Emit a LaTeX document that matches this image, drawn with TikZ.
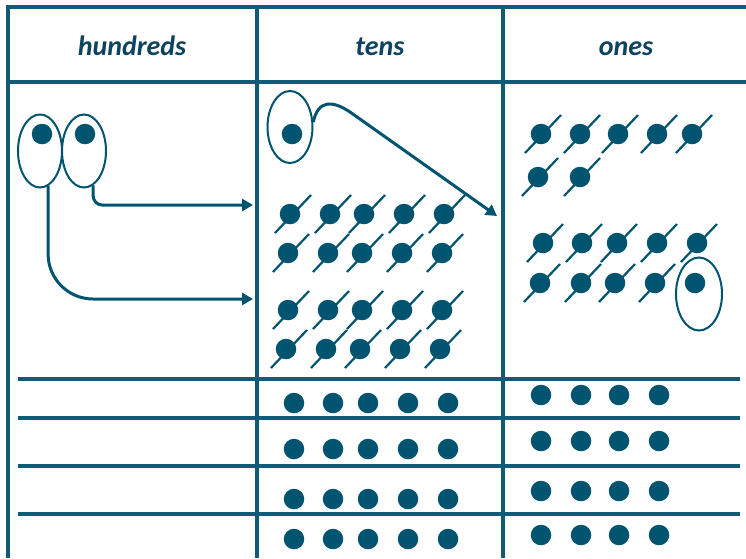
\documentclass[tikz,border=0pt]{standalone}
\usepackage{fontspec}
\setmainfont{Carlito}
\usepackage{tikz}
\usetikzlibrary{arrows.meta,shapes.geometric,calc}
\definecolor{pvteal}{RGB}{17,91,120}
\definecolor{pvdark}{RGB}{0,84,111}
\definecolor{pvtext}{RGB}{14,66,94}
\tikzset{
  pvrule/.style={draw=pvteal,line width=3.2pt},
  pvhead/.style={font=\fontsize{28}{32}\selectfont\bfseries\itshape,text=pvtext,anchor=base},
  pvdot/.style={circle,fill=pvdark,minimum size=20.5pt,inner sep=0pt},
  pvgroup/.style={ellipse,draw=pvdark,line width=2pt,minimum width=44pt,minimum height=73pt,inner sep=0pt},
  pvslash/.style={draw=pvdark,line width=2.2pt},
  pvedge/.style={-{Triangle[length=11pt,width=12pt]},draw=pvdark,line width=3pt}
}

\begin{document}
\begin{tikzpicture}[x=1pt,y=-1pt]
  \useasboundingbox (0,0) rectangle (746,558);
  % frame of the place value chart
  \draw[pvrule] (8,558) -- (8,7) -- (746,7);
  \draw[pvrule] (8,82) -- (746,82);
  \draw[pvrule] (257,7) -- (257,558);
  \draw[pvrule] (503,7) -- (503,558);
  \foreach \y in {379,418,466,514} \draw[pvrule] (18,\y) -- (740,\y);
  \node[pvhead] (hhund) at (132,55) {hundreds};
  \node[pvhead] (htens) at (380,55) {tens};
  \node[pvhead] (hones) at (626,55) {ones};
  % hundreds: two hundreds regrouped as tens
  \node[pvgroup] (hgrpa) at (40,151) {};
  \node[pvgroup] (hgrpb) at (84,151) {};
  \node[pvdot] (hdota) at (42,134) {};
  \node[pvdot] (hdotb) at (85,134) {};
  \coordinate (tensina) at (253,205);
  \coordinate (tensinb) at (253,299);
  \draw[pvedge,rounded corners=9pt] (hgrpb.-75) |- (tensina);
  \draw[pvedge,rounded corners=45pt] (hgrpa.-77) |- (tensinb);
  % tens: one ten regrouped as ones
  \node[pvgroup,minimum width=45pt,minimum height=72pt] (tgrp) at (290,127) {};
  \node[pvdot] (tdot) at (292,134) {};
  \coordinate (onesin) at (497,216);
  \draw[pvedge] (tgrp.12) .. controls (318,100) and (332,100) .. (350,112) -- (onesin);
  \foreach \r/\y/\s in {1/214/1,2/253/-1,3/310/-1,4/349/-3}
    \foreach \c/\x in {1/289,2/329,3/363,4/403,5/443} {
      \node[pvdot] (t\r\c) at (\x+\s,\y) {};
      \draw[pvslash] ($(t\r\c)+(-15,19)$) -- ($(t\r\c)+(21,-19)$);
    }
  % ones
  \foreach \n/\x/\y in {1/541/134,2/580/134,3/618/134,4/657/134,5/692/134,6/538/177,7/580/177,
                        8/543/243,9/582/243,10/617/243,11/657/243,12/697/243,
                        13/540/283,14/581/283,15/615/283,16/655/283} {
    \node[pvdot] (o\n) at (\x,\y) {};
    \draw[pvslash] ($(o\n)+(-16,19)$) -- ($(o\n)+(20,-19)$);
  }
  \node[pvgroup,minimum width=46pt] (ogrp) at (699,294) {};
  \node[pvdot] (odot) at (695,283) {};
  % what is left after regrouping
  \foreach \r/\y in {1/403,2/449,3/499,4/539}
    \foreach \c/\x in {1/294,2/333,3/368,4/408,5/448}
      \node[pvdot] (tl\r\c) at (\x,\y) {};
  \foreach \r/\y in {1/395,2/441,3/491,4/535}
    \foreach \c/\x in {1/541,2/581,3/619,4/659}
      \node[pvdot] (ol\r\c) at (\x,\y) {};
\end{tikzpicture}
\end{document}
